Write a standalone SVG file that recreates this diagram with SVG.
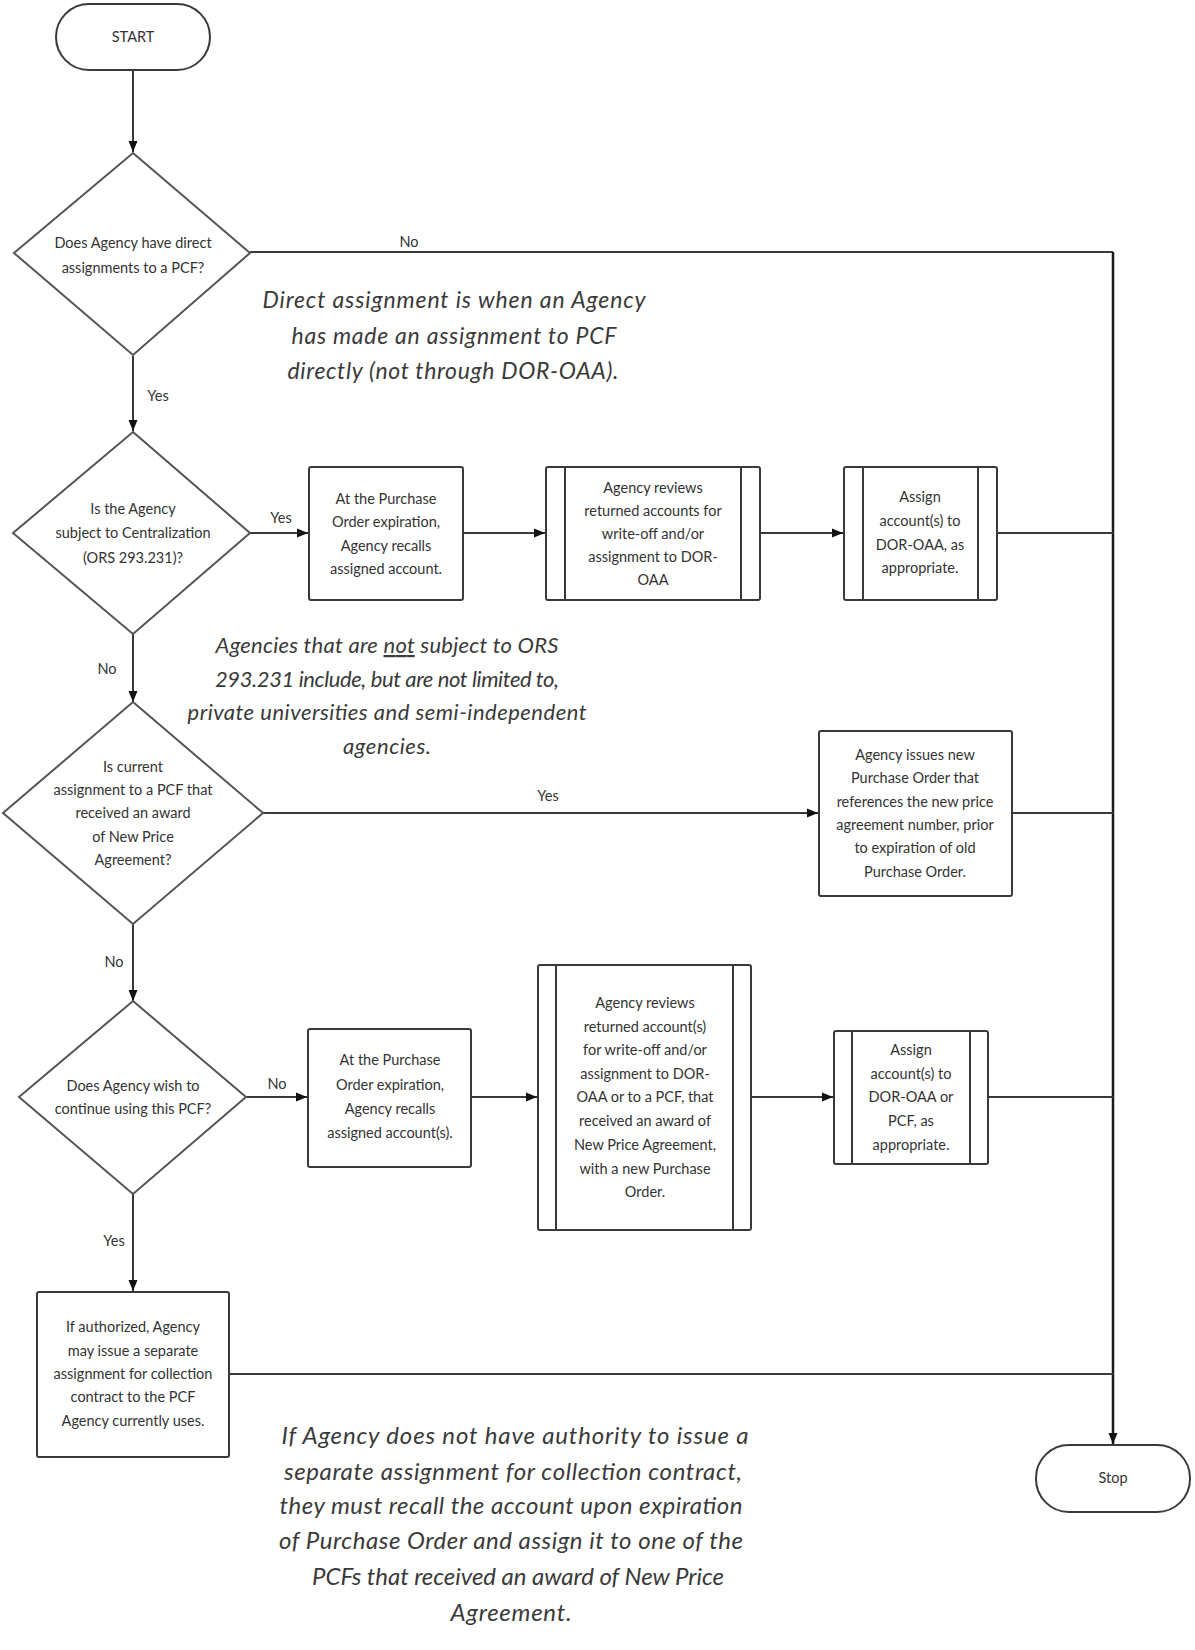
<svg xmlns="http://www.w3.org/2000/svg" width="1195" height="1650" viewBox="0 0 1195 1650">
<style>
.bg{fill:#ffffff}
.shape{fill:#ffffff;stroke:#3a3a3a;stroke-width:2}
.dia{fill:#ffffff;stroke:#555555;stroke-width:2}
.t{font-family:Lato,"Liberation Sans",sans-serif;font-size:14.5px;fill:#333333;text-anchor:middle}
.lbl{font-family:Lato,"Liberation Sans",sans-serif;font-size:14.5px;fill:#333333;text-anchor:middle}
.note{font-family:Lato,"Liberation Sans",sans-serif;font-style:italic;font-size:23px;fill:#3a3a3a;text-anchor:middle}
.n2{font-size:22px}
.n3{font-size:24px}
.ln{fill:none;stroke:#3a3a3a;stroke-width:2}
.main{fill:none;stroke:#1a1a1a;stroke-width:2.5}
</style>
<defs>
<marker id="ah" viewBox="0 0 11 10" refX="11" refY="5" markerWidth="11" markerHeight="10" markerUnits="userSpaceOnUse" orient="auto">
<path d="M0,0.5 L11,5 L0,9.5 z" fill="#111111"/>
</marker>
</defs>
<rect class="bg" x="0" y="0" width="1195" height="1650"/>

<g id="connectors">
<line class="ln" x1="133" y1="70" x2="133" y2="152" marker-end="url(#ah)"/>
<polyline class="ln" points="250,252 1113,252"/>
<line class="main" x1="1113" y1="252" x2="1113" y2="1444" marker-end="url(#ah)"/>
<line class="ln" x1="133" y1="356" x2="133" y2="431" marker-end="url(#ah)"/>
<line class="ln" x1="250" y1="533" x2="308" y2="533" marker-end="url(#ah)"/>
<line class="ln" x1="463" y1="533" x2="545" y2="533" marker-end="url(#ah)"/>
<line class="ln" x1="760" y1="533" x2="843" y2="533" marker-end="url(#ah)"/>
<line class="ln" x1="997" y1="533" x2="1113" y2="533"/>
<line class="ln" x1="133" y1="634" x2="133" y2="702" marker-end="url(#ah)"/>
<line class="ln" x1="263" y1="813" x2="818" y2="813" marker-end="url(#ah)"/>
<line class="ln" x1="1012" y1="813" x2="1113" y2="813"/>
<line class="ln" x1="133" y1="924" x2="133" y2="1001" marker-end="url(#ah)"/>
<line class="ln" x1="246" y1="1097" x2="307" y2="1097" marker-end="url(#ah)"/>
<line class="ln" x1="471" y1="1097" x2="537" y2="1097" marker-end="url(#ah)"/>
<line class="ln" x1="751" y1="1097" x2="833" y2="1097" marker-end="url(#ah)"/>
<line class="ln" x1="988" y1="1097" x2="1113" y2="1097"/>
<line class="ln" x1="133" y1="1194" x2="133" y2="1291" marker-end="url(#ah)"/>
<line class="ln" x1="229" y1="1374" x2="1113" y2="1374"/>
<text class="lbl" x="409" y="247">No</text>
<text class="lbl" x="158" y="401">Yes</text>
<text class="lbl" x="281" y="523">Yes</text>
<text class="lbl" x="107" y="674">No</text>
<text class="lbl" x="548" y="801">Yes</text>
<text class="lbl" x="114" y="967">No</text>
<text class="lbl" x="277" y="1089">No</text>
<text class="lbl" x="114" y="1246">Yes</text>
</g>

<g id="start">
<rect class="shape" x="56" y="4" width="154" height="66" rx="33"/>
<text class="t" x="133" y="42">START</text>
</g>

<g id="d1">
<polygon class="dia" points="133,153 250,253 133,355 14,253"/>
<text class="t" x="133" y="248">Does Agency have direct</text>
<text class="t" x="133" y="273">assignments to a PCF?</text>
</g>

<g id="d2">
<polygon class="dia" points="133,432 250,533 133,634 13,533"/>
<text class="t" x="133" y="514">Is the Agency</text>
<text class="t" x="133" y="538">subject to Centralization</text>
<text class="t" x="133" y="563">(ORS 293.231)?</text>
</g>

<g id="b1">
<rect class="shape" x="309" y="467" width="154" height="133" rx="2"/>
<text class="t" x="386" y="504">At the Purchase</text>
<text class="t" x="386" y="527">Order expiration,</text>
<text class="t" x="386" y="551">Agency recalls</text>
<text class="t" x="386" y="574">assigned account.</text>
</g>

<g id="b2">
<rect class="shape" x="546" y="467" width="214" height="133" rx="2"/>
<line class="shape" x1="565" y1="467" x2="565" y2="600"/>
<line class="shape" x1="741" y1="467" x2="741" y2="600"/>
<text class="t" x="653" y="493">Agency reviews</text>
<text class="t" x="653" y="516">returned accounts for</text>
<text class="t" x="653" y="539">write-off and/or</text>
<text class="t" x="653" y="562">assignment to DOR-</text>
<text class="t" x="653" y="585">OAA</text>
</g>

<g id="b3">
<rect class="shape" x="844" y="467" width="153" height="133" rx="2"/>
<line class="shape" x1="863" y1="467" x2="863" y2="600"/>
<line class="shape" x1="978" y1="467" x2="978" y2="600"/>
<text class="t" x="920" y="502">Assign</text>
<text class="t" x="920" y="526">account(s) to</text>
<text class="t" x="920" y="550">DOR-OAA, as</text>
<text class="t" x="920" y="573">appropriate.</text>
</g>

<g id="d3">
<polygon class="dia" points="133,702 263,813 133,924 3,813"/>
<text class="t" x="133" y="772">Is current</text>
<text class="t" x="133" y="795">assignment to a PCF that</text>
<text class="t" x="133" y="818">received an award</text>
<text class="t" x="133" y="842">of New Price</text>
<text class="t" x="133" y="865">Agreement?</text>
</g>

<g id="b4">
<rect class="shape" x="819" y="731" width="193" height="165" rx="2"/>
<text class="t" x="915" y="760">Agency issues new</text>
<text class="t" x="915" y="783">Purchase Order that</text>
<text class="t" x="915" y="807">references the new price</text>
<text class="t" x="915" y="830">agreement number, prior</text>
<text class="t" x="915" y="853">to expiration of old</text>
<text class="t" x="915" y="877">Purchase Order.</text>
</g>

<g id="d4">
<polygon class="dia" points="133,1001 246,1097 133,1194 19,1097"/>
<text class="t" x="133" y="1091">Does Agency wish to</text>
<text class="t" x="133" y="1114">continue using this PCF?</text>
</g>

<g id="b5">
<rect class="shape" x="308" y="1029" width="163" height="138" rx="2"/>
<text class="t" x="390" y="1065">At the Purchase</text>
<text class="t" x="390" y="1090">Order expiration,</text>
<text class="t" x="390" y="1114">Agency recalls</text>
<text class="t" x="390" y="1138">assigned account(s).</text>
</g>

<g id="b6">
<rect class="shape" x="538" y="965" width="213" height="265" rx="2"/>
<line class="shape" x1="556" y1="965" x2="556" y2="1230"/>
<line class="shape" x1="733" y1="965" x2="733" y2="1230"/>
<text class="t" x="645" y="1008">Agency reviews</text>
<text class="t" x="645" y="1032">returned account(s)</text>
<text class="t" x="645" y="1055">for write-off and/or</text>
<text class="t" x="645" y="1079">assignment to DOR-</text>
<text class="t" x="645" y="1102">OAA or to a PCF, that</text>
<text class="t" x="645" y="1126">received an award of</text>
<text class="t" x="645" y="1150">New Price Agreement,</text>
<text class="t" x="645" y="1174">with a new Purchase</text>
<text class="t" x="645" y="1197">Order.</text>
</g>

<g id="b7">
<rect class="shape" x="834" y="1031" width="154" height="133" rx="2"/>
<line class="shape" x1="852" y1="1031" x2="852" y2="1164"/>
<line class="shape" x1="970" y1="1031" x2="970" y2="1164"/>
<text class="t" x="911" y="1055">Assign</text>
<text class="t" x="911" y="1079">account(s) to</text>
<text class="t" x="911" y="1102">DOR-OAA or</text>
<text class="t" x="911" y="1126">PCF, as</text>
<text class="t" x="911" y="1150">appropriate.</text>
</g>

<g id="b8">
<rect class="shape" x="37" y="1292" width="192" height="165" rx="2"/>
<text class="t" x="133" y="1332">If authorized, Agency</text>
<text class="t" x="133" y="1356">may issue a separate</text>
<text class="t" x="133" y="1379">assignment for collection</text>
<text class="t" x="133" y="1402">contract to the PCF</text>
<text class="t" x="133" y="1426">Agency currently uses.</text>
</g>

<g id="stop">
<rect class="shape" x="1036" y="1445" width="154" height="67" rx="33"/>
<text class="t" x="1113" y="1483">Stop</text>
</g>

<g id="note1">
<text class="note" x="454" y="308" textLength="383">Direct assignment is when an Agency</text>
<text class="note" x="454" y="344" textLength="325">has made an assignment to PCF</text>
<text class="note" x="453" y="379" textLength="331">directly (not through DOR-OAA).</text>
</g>

<g id="note2">
<text class="note n2" x="387" y="653" textLength="343">Agencies that are <tspan text-decoration="underline">not</tspan> subject to ORS</text>
<text class="note n2" x="387" y="687" textLength="344">293.231 include, but are not limited to,</text>
<text class="note n2" x="387" y="720" textLength="399">private universities and semi-independent</text>
<text class="note n2" x="387" y="754" textLength="88">agencies.</text>
</g>

<g id="note3">
<text class="note n3" x="515" y="1444" textLength="467">If Agency does not have authority to issue a</text>
<text class="note n3" x="513" y="1480" textLength="458">separate assignment for collection contract,</text>
<text class="note n3" x="511" y="1514" textLength="463">they must recall the account upon expiration</text>
<text class="note n3" x="511" y="1549" textLength="464">of Purchase Order and assign it to one of the</text>
<text class="note n3" x="518" y="1585" textLength="412">PCFs that received an award of New Price</text>
<text class="note n3" x="511" y="1621" textLength="121">Agreement.</text>
</g>
</svg>
